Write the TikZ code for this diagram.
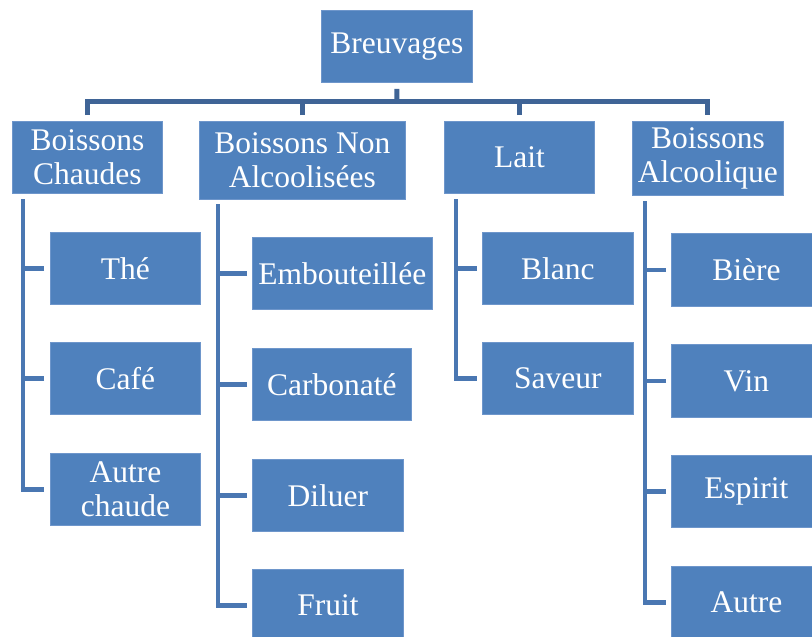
\documentclass[tikz,border=0pt]{standalone}
\usepackage{fontspec}
\setmainfont{Liberation Serif}
\definecolor{boxblue}{HTML}{4F81BD}
\definecolor{barblue}{HTML}{3F6496}
\definecolor{sideblue}{HTML}{4A77B2}
\definecolor{edgeblue}{HTML}{6E96CB}
\begin{document}
\begin{tikzpicture}[x=1pt,y=-1pt,
  box/.style={draw=edgeblue,line width=0.8pt,fill=boxblue,text=white,inner sep=0pt,
    align=center,anchor=north west,font=\fontsize{31.5}{34.5}\selectfont},
  wh/.style 2 args={minimum width=#1pt,minimum height=#2pt},
  barline/.style={draw=barblue,line width=5pt},
  sideline/.style={draw=sideblue,line width=4.5pt}]
\useasboundingbox (0,0) rectangle (812,637);
\clip (0,0) rectangle (812,637);
% nodes
\node[box,wh={151}{72}] (top) at (321,10) {Breuvages};
\node[box,wh={150}{72}] (c1) at (12,121) {Boissons\\Chaudes};
\node[box,wh={206}{78}] (c2) at (199,121) {Boissons Non\\Alcoolisées};
\node[box,wh={150}{72}] (c3) at (444,121) {Lait};
\node[box,wh={151}{74}] (c4) at (632,121) {Boissons\\Alcoolique};
\node[box,wh={150}{72}] (t1) at (50,232) {Thé};
\node[box,wh={150}{72}] (t2) at (50,342) {Café};
\node[box,wh={150}{72}] (t3) at (50,453) {Autre\\chaude};
\node[box,wh={180}{72}] (n1) at (252,237) {Embouteillée};
\node[box,wh={159}{72}] (n2) at (252,348) {Carbonaté};
\node[box,wh={151}{72}] (n3) at (252,459) {Diluer};
\node[box,wh={151}{72}] (n4) at (252,569) {Fruit};
\node[box,wh={151}{72}] (l1) at (482,232) {Blanc};
\node[box,wh={151}{72}] (l2) at (482,342) {Saveur};
\node[box,wh={150}{73}] (a1) at (671,233) {Bière};
\node[box,wh={150}{73}] (a2) at (671,344) {Vin};
\node[box,wh={150}{72}] (a3) at (671,455) {Espirit};
\node[box,wh={150}{72}] (a4) at (671,566) {Autre};
% top connectors
\coordinate (hub) at (397,101);
\draw[barline] ([yshift=-6pt]top.south) -- (hub);
\draw[barline] ([yshift=6pt]c1.north) |- (hub) -| ([yshift=6pt]c4.north);
\draw[barline] ([yshift=6pt]c2.north) -- (c2.north |- hub);
\draw[barline] ([yshift=6pt]c3.north) -- (c3.north |- hub);
% spines
\coordinate (s1) at (23,199);
\coordinate (s2) at (218,204);
\coordinate (s3) at (456,199);
\coordinate (s4) at (645,201);
\draw[sideline] (s1) |- ([xshift=-6pt]t3.west);
\draw[sideline] ([xshift=-6pt]t1.west) -- (t1.west -| s1);
\draw[sideline] ([xshift=-6pt]t2.west) -- (t2.west -| s1);
\draw[sideline] (s2) |- ([xshift=-5pt]n4.west);
\draw[sideline] ([xshift=-5pt]n1.west) -- (n1.west -| s2);
\draw[sideline] ([xshift=-5pt]n2.west) -- (n2.west -| s2);
\draw[sideline] ([xshift=-5pt]n3.west) -- (n3.west -| s2);
\draw[sideline] (s3) |- ([xshift=-5pt]l2.west);
\draw[sideline] ([xshift=-5pt]l1.west) -- (l1.west -| s3);
\draw[sideline] (s4) |- ([xshift=-5pt]a4.west);
\draw[sideline] ([xshift=-5pt]a1.west) -- (a1.west -| s4);
\draw[sideline] ([xshift=-5pt]a2.west) -- (a2.west -| s4);
\draw[sideline] ([xshift=-5pt]a3.west) -- (a3.west -| s4);
\end{tikzpicture}
\end{document}
